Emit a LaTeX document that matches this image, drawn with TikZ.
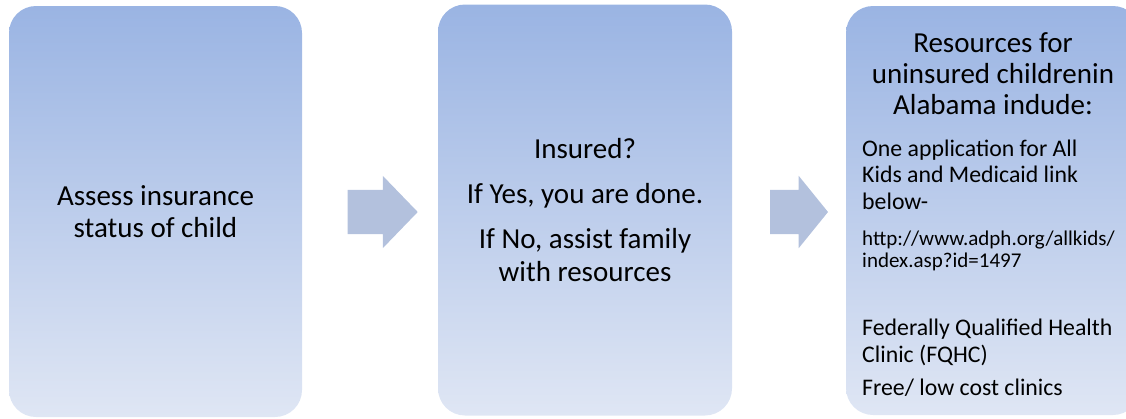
\documentclass[tikz,border=0pt]{standalone}
\usepackage{fontspec}
\setmainfont{Carlito}
\usetikzlibrary{shapes.arrows}
\definecolor{boxtop}{HTML}{9AB4E3}
\definecolor{boxbot}{HTML}{DFE6F4}
\definecolor{arrowc}{HTML}{B3C1DD}
\begin{document}
\begin{tikzpicture}[x=1pt,y=-1pt,
  box/.style={rectangle, rounded corners=27pt, top color=boxtop, bottom color=boxbot,
    draw=none, minimum height=411pt, inner sep=0pt, align=center,
    font=\fontsize{29}{32.5}\selectfont},
  blockarrow/.style={single arrow, fill=arrowc, draw=none, inner xsep=0pt, inner ysep=22pt,
    single arrow head extend=14pt, single arrow head indent=0pt},
  bigtxt/.style={inner sep=0pt, align=center, font=\fontsize{29}{31}\selectfont},
  bodytxt/.style={inner sep=0pt, align=left, anchor=base west, font=\fontsize{23.8}{26.4}\selectfont},
  urltxt/.style={inner sep=0pt, align=left, anchor=base west, font=\fontsize{21}{22.3}\selectfont}]
\useasboundingbox (0,0) rectangle (1126,418);
\clip (0,0) rectangle (1126,418);
\node[box, minimum width=293pt] (b1) at (155.5,211.5) {Assess insurance\\status of child};
\node[box, minimum width=294pt] (b2) at (585,210)
  {Insured?\\[12.5pt]If Yes, you are done.\\[12.5pt]If No, assist family\\with resources};
\node[box, minimum width=294pt, minimum height=409pt] (b3) at (993,210.5) {};
\node[blockarrow, minimum height=70pt, single arrow tip angle=92] (a1) at (372,212) {};
\node[blockarrow, minimum height=58pt, single arrow tip angle=102] (a2) at (790,212) {};
\node[bigtxt, anchor=base] (t1) at (993,114) {Resources for\\uninsured childrenin\\Alabama indude:};
\node[bodytxt] (t2) at (862,209) {One application for All\\Kids and Medicaid link\\below-};
\node[urltxt] (t3) at (862,267.3) {http://www.adph.org/allkids/\\index.asp?id=1497};
\node[bodytxt] (t4) at (862,362) {Federally Qualified Health\\Clinic (FQHC)};
\node[bodytxt] (t5) at (862,395) {Free/ low cost clinics};
\end{tikzpicture}
\end{document}
